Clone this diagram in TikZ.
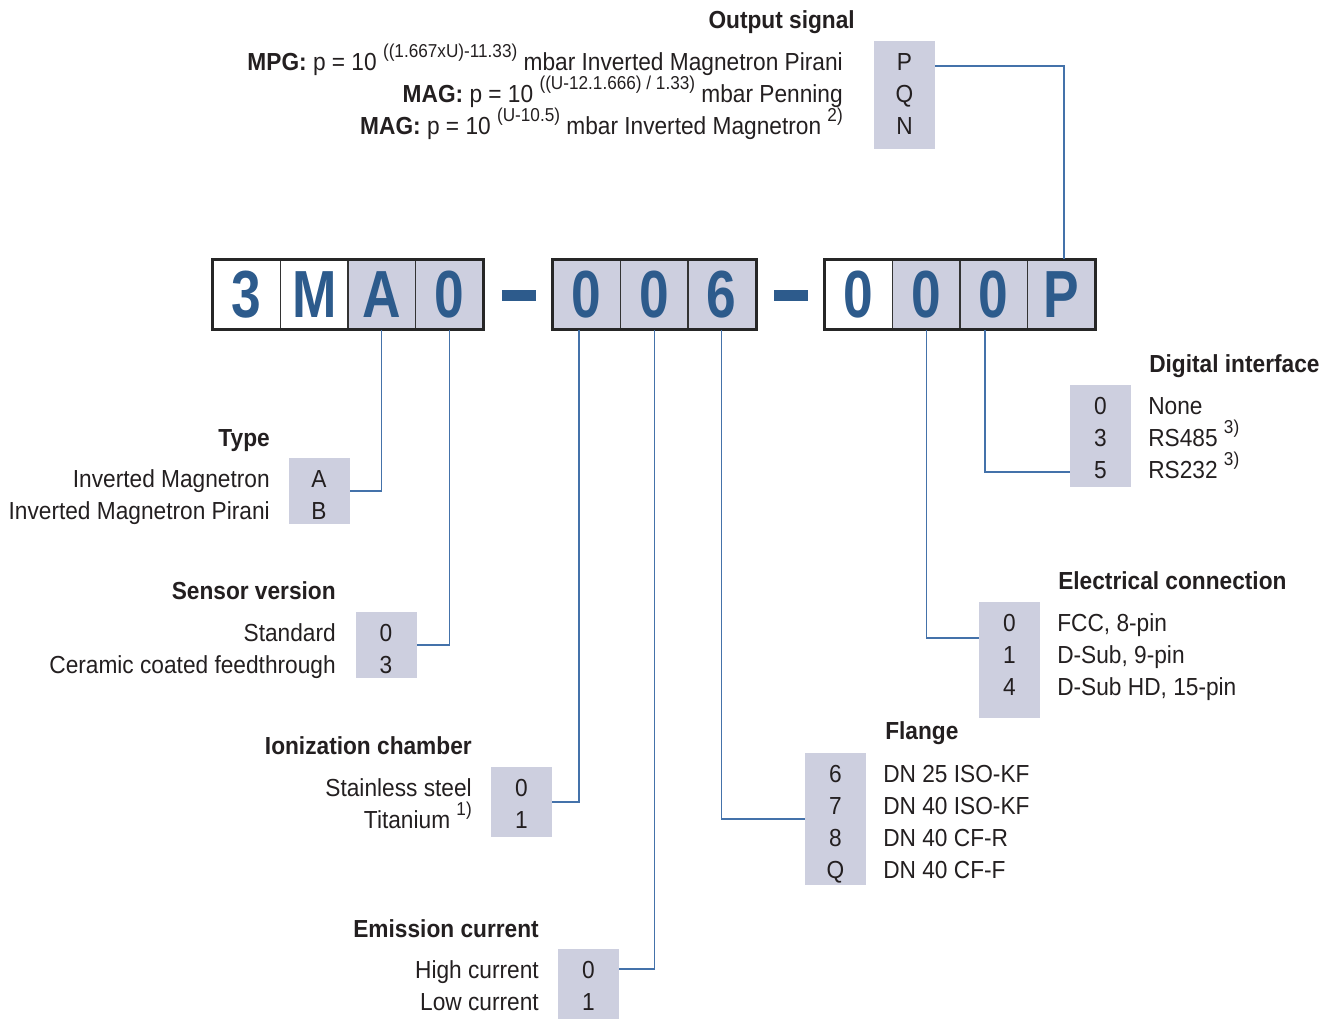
\documentclass[tikz,border=0pt]{standalone}
\usepackage{fontspec}
\setmainfont{Liberation Sans}[FakeStretch=0.92]
\newfontfamily\codefont{Liberation Sans}[FakeStretch=0.8]
\usetikzlibrary{positioning}
\definecolor{codeblue}{HTML}{2D5B8C}
\definecolor{linkblue}{HTML}{4472AA}
\definecolor{boxgrey}{HTML}{CDCFDF}
\definecolor{ink}{HTML}{231F20}
\newcommand{\hoch}[1]{\raisebox{0.5em}{\fontsize{14}{14}\selectfont #1}}

\begin{document}
\begin{tikzpicture}[x=0.75pt, y=-0.75pt, text=ink,
  cell/.style={draw=black!80, line width=1.4pt, minimum width=50.6pt, minimum height=51.75pt, inner sep=0pt, text=codeblue, font=\codefont\fontsize{50}{50}\selectfont\bfseries},
  frame/.style={draw=black!85, line width=2.3pt},
  optbox/.style={fill=boxgrey, minimum width=45.75pt, inner sep=0pt},
  ttl/.style={font=\fontsize{18.5}{20}\selectfont\bfseries, inner sep=0pt},
  ln/.style={font=\fontsize{18.5}{20}\selectfont, inner sep=0pt},
  dig/.style={ln, anchor=base},
  lnk/.style={draw=linkblue, line width=1.1pt}]
\useasboundingbox (0,0) rectangle (1334,1018);
% order code
\node[cell, fill=white] (c1) at (246.75,294.5) {3};
\node[cell, fill=white] (c2) at (314.25,294.5) {M};
\node[cell, fill=boxgrey] (c3) at (381.75,294.5) {A};
\node[cell, fill=boxgrey] (c4) at (449.25,294.5) {0};
\draw[frame] (c1.north west) rectangle (c4.south east);
\node[fill=codeblue, minimum width=25.5pt, minimum height=8.25pt, inner sep=0pt] (dash1) at (518.5,295) {};
\node[cell, fill=boxgrey] (c5) at (586.75,294.5) {0};
\node[cell, fill=boxgrey] (c6) at (654.25,294.5) {0};
\node[cell, fill=boxgrey] (c7) at (721.75,294.5) {6};
\draw[frame] (c5.north west) rectangle (c7.south east);
\node[fill=codeblue, minimum width=25.5pt, minimum height=8.25pt, inner sep=0pt] (dash2) at (790.5,295) {};
\node[cell, fill=white] (c8) at (858.75,294.5) {0};
\node[cell, fill=boxgrey] (c9) at (926.25,294.5) {0};
\node[cell, fill=boxgrey] (c10) at (993.75,294.5) {0};
\node[cell, fill=boxgrey] (c11) at (1061.25,294.5) {P};
\draw[frame] (c8.north west) rectangle (c11.south east);
% output signal
\node[ttl, anchor=base east] (ostitle) at (855,28) {Output signal};
\node[ln, anchor=base east] (os1) at (843,70) {\textbf{MPG:} p = 10 \hoch{((1.667xU)-11.33)} mbar Inverted Magnetron Pirani};
\node[ln, anchor=base east] (os2) at (843,102) {\textbf{MAG:} p = 10 \hoch{((U-12.1.666) / 1.33)} mbar Penning};
\node[ln, anchor=base east] (os3) at (843,134) {\textbf{MAG:} p = 10 \hoch{(U-10.5)} mbar Inverted Magnetron \hoch{2)}};
\node[optbox, minimum height=81pt] (osbox) at (904.5,95) {};
\node[dig] (osP) at (904.5,70) {P};
\node[dig] (osQ) at (904.5,102) {Q};
\node[dig] (osN) at (904.5,134) {N};
% type
\node[ttl, anchor=base east] (tytitle) at (270,446) {Type};
\node[ln, anchor=base east] (ty1) at (270,487) {Inverted Magnetron};
\node[ln, anchor=base east] (ty2) at (270,519) {Inverted Magnetron Pirani};
\node[optbox, minimum height=49.5pt] (tybox) at (319,491) {};
\node[dig] (tyA) at (319,487) {A};
\node[dig] (tyB) at (319,519) {B};
% sensor version
\node[ttl, anchor=base east] (svtitle) at (336,599) {Sensor version};
\node[ln, anchor=base east] (sv1) at (336,641) {Standard};
\node[ln, anchor=base east] (sv2) at (336,673) {Ceramic coated feedthrough};
\node[optbox, minimum height=49.5pt] (svbox) at (386,645) {};
\node[dig] (sv0) at (386,641) {0};
\node[dig] (sv3) at (386,673) {3};
% ionization chamber
\node[ttl, anchor=base east] (ictitle) at (472,754) {Ionization chamber};
\node[ln, anchor=base east] (ic1) at (472,796) {Stainless steel};
\node[ln, anchor=base east] (ic2) at (472,828) {Titanium \hoch{1)}};
\node[optbox, minimum height=52.5pt] (icbox) at (521.5,802) {};
\node[dig] (ic0) at (521.5,796) {0};
\node[dig] (ic1d) at (521.5,828) {1};
% emission current
\node[ttl, anchor=base east] (emtitle) at (539,937) {Emission current};
\node[ln, anchor=base east] (em1) at (539,978) {High current};
\node[ln, anchor=base east] (em2) at (539,1010) {Low current};
\node[optbox, minimum height=52.5pt] (embox) at (588.5,984) {};
\node[dig] (em0) at (588.5,978) {0};
\node[dig] (em1d) at (588.5,1010) {1};
% flange
\node[ttl, anchor=base west] (fltitle) at (885,739) {Flange};
\node[ln, anchor=base west] (fl1) at (883,782) {DN 25 ISO-KF};
\node[ln, anchor=base west] (fl2) at (883,814) {DN 40 ISO-KF};
\node[ln, anchor=base west] (fl3) at (883,846) {DN 40 CF-R};
\node[ln, anchor=base west] (fl4) at (883,878) {DN 40 CF-F};
\node[optbox, minimum height=99pt] (flbox) at (835.5,819) {};
\node[dig] (fl6) at (835.5,782) {6};
\node[dig] (fl7) at (835.5,814) {7};
\node[dig] (fl8) at (835.5,846) {8};
\node[dig] (flQ) at (835.5,878) {Q};
% electrical connection
\node[ttl, anchor=base west] (eltitle) at (1058,589) {Electrical connection};
\node[ln, anchor=base west] (el1) at (1057,631) {FCC, 8-pin};
\node[ln, anchor=base west] (el2) at (1057,663) {D-Sub, 9-pin};
\node[ln, anchor=base west] (el3) at (1057,695) {D-Sub HD, 15-pin};
\node[optbox, minimum height=87pt] (elbox) at (1009.5,660) {};
\node[dig] (el0) at (1009.5,631) {0};
\node[dig] (el1d) at (1009.5,663) {1};
\node[dig] (el4) at (1009.5,695) {4};
% digital interface
\node[ttl, anchor=base west] (dititle) at (1149,372) {Digital interface};
\node[ln, anchor=base west] (di1) at (1148,414) {None};
\node[ln, anchor=base west] (di2) at (1148,446) {RS485 \hoch{3)}};
\node[ln, anchor=base west] (di3) at (1148,478) {RS232 \hoch{3)}};
\node[optbox, minimum height=76.5pt] (dibox) at (1100.5,436) {};
\node[dig] (di0) at (1100.5,414) {0};
\node[dig] (di3d) at (1100.5,446) {3};
\node[dig] (di5) at (1100.5,478) {5};
% leader lines
\draw[lnk] (c3.south) |- (tybox.east);
\draw[lnk] (c4.south) |- (svbox.east);
\draw[lnk] ([xshift=-5.75pt]c5.south) |- (icbox.east);
\draw[lnk] (c6.south) |- ([yshift=11.25pt]embox.east);
\draw[lnk] (c7.south) |- (flbox.west);
\draw[lnk] (c9.south) |- ([yshift=16.5pt]elbox.west);
\draw[lnk] ([xshift=-6.5pt]c10.south) |- ([yshift=-27pt]dibox.west);
\draw[lnk] ([yshift=21.75pt]osbox.east) -| ([xshift=2pt]c11.north);
\end{tikzpicture}
\end{document}
